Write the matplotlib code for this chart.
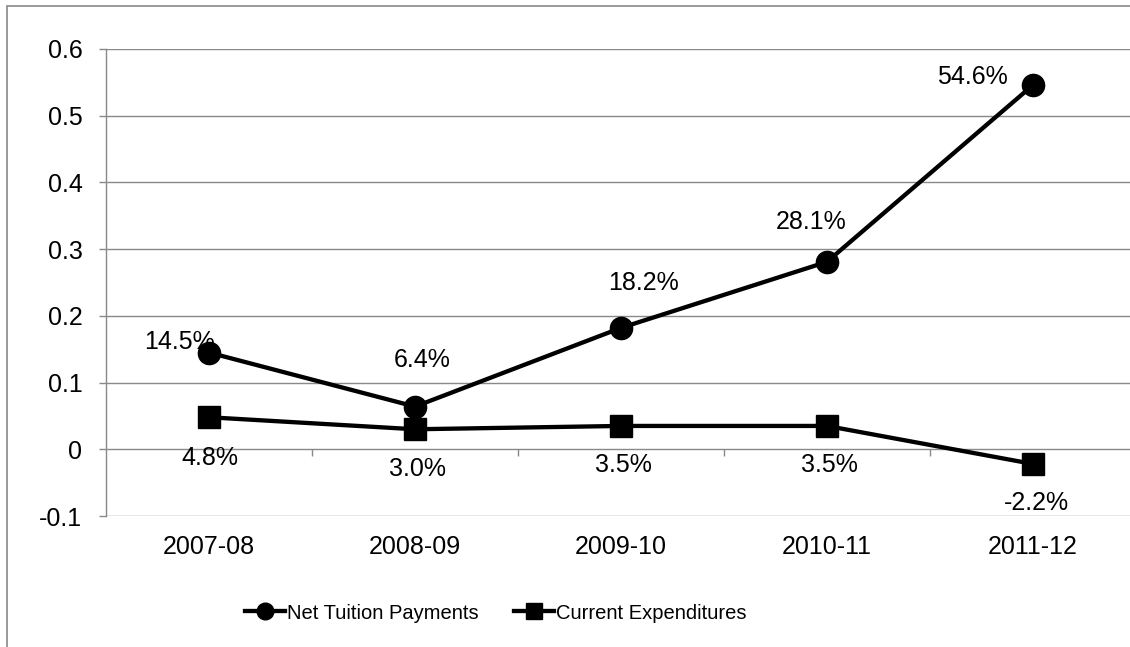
import matplotlib
matplotlib.use('Agg')
from matplotlib import pyplot as plt
from matplotlib.patches import Rectangle
from matplotlib import font_manager

plt.rcParams['font.family'] = ['Liberation Sans', 'DejaVu Sans']

years = ['2007-08', '2008-09', '2009-10', '2010-11', '2011-12']
tuition = [0.145, 0.064, 0.182, 0.281, 0.546]
expend = [0.048, 0.030, 0.035, 0.035, -0.022]
tuition_lbl = ['14.5%', '6.4%', '18.2%', '28.1%', '54.6%']
expend_lbl = ['4.8%', '3.0%', '3.5%', '3.5%', '-2.2%']
yticks = [-0.1, 0, 0.1, 0.2, 0.3, 0.4, 0.5, 0.6]
ytick_lbl = ['-0.1', '0', '0.1', '0.2', '0.3', '0.4', '0.5', '0.6']

# label offsets in pixels (hand placed, like excel did)
tuition_off = [(-30, 11), (7, 47), (23, 45), (-16, 40), (-61, 8)]
expend_off = [(1, -41), (2, -40), (2, -39), (2, -39), (3, -39)]

gray = '#898989'
W, H = 1130, 647
fig = plt.figure(figsize=(W / 100, H / 100), dpi=100)
# chart border (cut off at right/bottom in the original)
fig.patches.append(Rectangle((7 / W, -0.2), 1.2, 1.2 - 6 / H, transform=fig.transFigure,
                             fill=False, edgecolor=gray, linewidth=1.2, clip_on=False))

ax = fig.add_axes([106 / W, 1 - 516 / H, 1030 / W, (516 - 49) / H])
x = list(range(len(years)))

ax.plot(x, tuition, color='black', lw=3.1, marker='o', ms=16, label='Net Tuition Payments')
ax.plot(x, expend, color='black', lw=3.1, marker='s', ms=16, label='Current Expenditures')

for i in x:
    ax.annotate(tuition_lbl[i], (x[i], tuition[i]), xytext=tuition_off[i], textcoords='offset pixels',
                ha='center', va='center', fontsize=18)
    ax.annotate(expend_lbl[i], (x[i], expend[i]), xytext=expend_off[i], textcoords='offset pixels',
                ha='center', va='center', fontsize=18)

ax.set_xlim(-0.5, 4.5)
ax.set_ylim(-0.1, 0.6)
ax.set_yticks(yticks)
ax.set_yticklabels(ytick_lbl)
ax.set_xticks(x)
ax.set_xticklabels(years)
ax.tick_params(axis='x', length=0, pad=14, labelsize=18)
ax.tick_params(axis='y', length=5, width=1, color=gray, pad=12, labelsize=18)
ax.grid(axis='y', color=gray, lw=1)
ax.set_axisbelow(True)
for s in ['top', 'right', 'bottom']:
    ax.spines[s].set_visible(False)
ax.spines['left'].set_color(gray)
ax.spines['left'].set_linewidth(1)

# category ticks sit on the zero line
sec = ax.secondary_xaxis(0.1 / 0.7)
sec.set_xticks([0.5, 1.5, 2.5, 3.5])
sec.set_xticklabels([])
sec.tick_params(length=5, width=1, color=gray)
sec.spines['bottom'].set_visible(False)

# legend text is squeezed in the original, use the narrow face if it is there
names = {f.name for f in font_manager.fontManager.ttflist}
if 'Liberation Sans Narrow' in names:
    leg_font = {'family': 'Liberation Sans Narrow', 'size': 18}
    hl, cs = 1.7, 1.45
else:
    leg_font = {'family': 'Liberation Sans', 'size': 14.5}
    hl, cs = 2.0, 1.75

fig.legend(loc='center', bbox_to_anchor=(0.4385, 0.0525), ncol=2, frameon=False, prop=leg_font,
           handlelength=hl, handletextpad=0.1, columnspacing=cs, markerscale=0.75)

fig.savefig('out.png', dpi=100)
